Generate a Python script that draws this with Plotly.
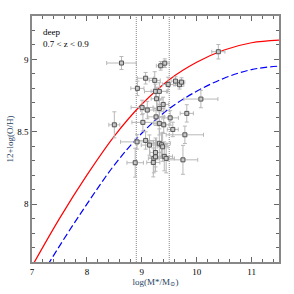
import plotly.graph_objects as go

# Data points (log M*, 12+log(O/H)) with errors
mass = [8.63, 10.395, 9.345, 9.419, 9.07, 9.236, 8.92, 9.48, 9.614, 9.687, 9.724,
        9.249, 9.32, 9.27, 10.077, 9.005, 9.32, 9.39, 9.82, 9.26, 9.517, 9.02,
        9.32, 9.40, 8.50, 9.565, 9.785, 8.914, 9.07, 9.14, 9.32, 9.36, 9.38,
        9.41, 8.88, 9.22, 9.25, 9.21, 9.25, 9.444, 9.75, 9.10]
oh = [8.975, 9.053, 8.956, 8.974, 8.87, 8.855, 8.80, 8.827, 8.85, 8.825, 8.843,
      8.779, 8.779, 8.728, 8.726, 8.668, 8.661, 8.689, 8.627, 8.603, 8.596, 8.565,
      8.558, 8.548, 8.548, 8.516, 8.479, 8.43, 8.44, 8.408, 8.42, 8.41, 8.396,
      8.33, 8.286, 8.316, 8.327, 8.288, 8.357, 8.316, 8.306, 8.65]
mass_err = [0.27, 0.12, 0.08, 0.08, 0.15, 0.10, 0.12, 0.10, 0.08, 0.08, 0.06,
            0.20, 0.15, 0.10, 0.31, 0.20, 0.10, 0.10, 0.12, 0.15, 0.15, 0.20,
            0.10, 0.10, 0.10, 0.10, 0.34, 0.30, 0.20, 0.15, 0.20, 0.10, 0.10,
            0.15, 0.15, 0.10, 0.10, 0.12, 0.10, 0.15, 0.27, 0.12]
oh_err = [0.045, 0.05, 0.03, 0.03, 0.04, 0.06, 0.05, 0.05, 0.03, 0.03, 0.03,
          0.05, 0.06, 0.08, 0.06, 0.05, 0.06, 0.05, 0.06, 0.06, 0.05, 0.06,
          0.08, 0.06, 0.09, 0.05, 0.06, 0.05, 0.06, 0.07, 0.10, 0.08, 0.10,
          0.10, 0.10, 0.10, 0.10, 0.10, 0.10, 0.10, 0.10, 0.06]

# Relations
curve_x = [7.0, 7.5, 8.0, 8.5, 9.0, 9.5, 10.0, 10.5, 11.0, 11.5]
local_y = [7.57, 7.90, 8.20, 8.47, 8.69, 8.86, 8.98, 9.065, 9.115, 9.133]
shift_y = [7.40, 7.71, 8.00, 8.27, 8.49, 8.66, 8.78, 8.87, 8.93, 8.954]

vlines = [8.9, 9.5]

x_ticks = [7, 8, 9, 10, 11]
y_ticks = [8, 8.5, 9]

FONT = "Liberation Serif, DejaVu Serif, serif"

fig = go.Figure()

for xv in vlines:
    fig.add_trace(go.Scatter(x=[xv, xv], y=[7.6, 9.3], mode="lines",
                             line=dict(color="#888", width=1, dash="1px,1px"),
                             hoverinfo="skip", showlegend=False))

fig.add_trace(go.Scatter(x=curve_x, y=local_y, mode="lines",
                         line=dict(color="red", width=1.2, shape="spline"),
                         showlegend=False))
fig.add_trace(go.Scatter(x=curve_x, y=shift_y, mode="lines",
                         line=dict(color="blue", width=1.2, dash="7px,3px", shape="spline"),
                         showlegend=False))

fig.add_trace(go.Scatter(
    x=mass, y=oh, mode="markers",
    error_x=dict(type="data", array=mass_err, color="#b8b8b8", thickness=1, width=2),
    error_y=dict(type="data", array=oh_err, color="#b8b8b8", thickness=1, width=2),
    marker=dict(symbol="square", size=4, color="#c8c8c8",
                line=dict(color="#555555", width=1)),
    showlegend=False))

axis_common = dict(
    showgrid=False, zeroline=False, showline=True, linecolor="#888", linewidth=1.5,
    mirror="ticks", ticks="inside", ticklen=5, tickcolor="#666", tickwidth=1,
    tickfont=dict(family=FONT, size=9, color="black"), automargin=False,
)

fig.update_xaxes(range=[7, 11.5], tickvals=x_ticks, ticktext=[str(t) for t in x_ticks],
                 minor=dict(dtick=0.2, ticks="inside", ticklen=3, tickcolor="#666"),
                 title=dict(text="log(M*/M<sub>⊙</sub>)", font=dict(family=FONT, size=9),
                            standoff=2),
                 **axis_common)
fig.update_yaxes(range=[7.6, 9.3], tickvals=y_ticks, ticktext=["8", "8.5", "9"],
                 minor=dict(dtick=0.1, ticks="inside", ticklen=3, tickcolor="#666"),
                 title=dict(text="12+log(O/H)", font=dict(family=FONT, size=9),
                            standoff=2),
                 **axis_common)

fig.add_annotation(x=0.035, y=0.935, xref="paper", yref="paper", text="deep",
                   showarrow=False, xanchor="left", yanchor="middle",
                   font=dict(family=FONT, size=9, color="black"))
fig.add_annotation(x=0.035, y=0.885, xref="paper", yref="paper", text="0.7 &lt; z &lt; 0.9",
                   showarrow=False, xanchor="left", yanchor="middle",
                   font=dict(family=FONT, size=9, color="black"))

fig.update_layout(width=294, height=294,
                  margin=dict(l=32, r=15, t=16, b=32),
                  paper_bgcolor="white", plot_bgcolor="white")

fig.write_html("out.html", config={"displayModeBar": False},
               post_script="document.body.style.margin='0';document.body.style.padding='0';")
